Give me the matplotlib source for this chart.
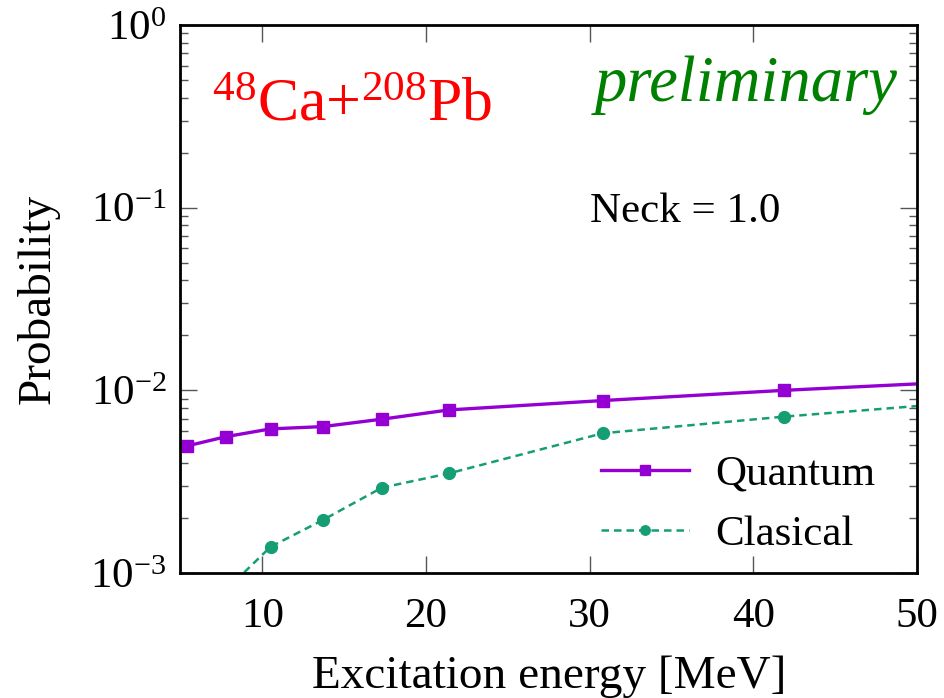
import numpy as np
import matplotlib
matplotlib.use('Agg')
import matplotlib.pyplot as plt
from matplotlib.ticker import LogLocator, NullFormatter, FixedLocator

plt.rcParams['font.family'] = ['Liberation Serif', 'DejaVu Serif']
plt.rcParams['mathtext.fontset'] = 'custom'
plt.rcParams['mathtext.rm'] = 'Liberation Serif'
plt.rcParams['mathtext.it'] = 'Liberation Serif:italic'

# data
quantum_e = [5.4, 7.8, 10.5, 13.7, 17.3, 21.4, 30.8, 41.9, 55.0]
quantum_p = [4.96e-3, 5.58e-3, 6.15e-3, 6.33e-3, 6.95e-3, 7.81e-3, 8.79e-3, 1.0e-2, 1.14e-2]
classical_e = [7.8, 10.5, 13.7, 17.3, 21.4, 30.8, 41.9, 55.0]
classical_p = [8.1e-4, 1.39e-3, 1.95e-3, 2.93e-3, 3.51e-3, 5.82e-3, 7.18e-3, 8.9e-3]
xticks = [10, 20, 30, 40, 50]

fig = plt.figure(figsize=(9.44, 6.98), dpi=100)
ax = fig.add_axes([0.1912, 0.1791, 0.7802, 0.7851])

ax.plot(quantum_e, quantum_p, color='#9400D3', lw=2.4, marker='s', ms=8.5,
        label='Quantum')
ax.plot(classical_e, classical_p, color='#159e74', lw=1.8, ls=(0, (3, 2)),
        marker='o', ms=8.5, label='Clasical')

ax.set_yscale('log')
ax.set_xlim(5, 50)
ax.set_ylim(1e-3, 1)
ax.xaxis.set_major_locator(FixedLocator(xticks))
ax.yaxis.set_major_locator(LogLocator(base=10, numticks=10))
ax.yaxis.set_minor_locator(LogLocator(base=10, subs=np.arange(2, 10), numticks=10))
ax.yaxis.set_minor_formatter(NullFormatter())

ax.tick_params(which='both', direction='in', top=True, right=True,
               color='#555555', width=1.0, labelsize=31)
ax.tick_params(which='major', length=12)
ax.tick_params(which='minor', length=6)
ax.tick_params(axis='x', which='major', pad=18)
ax.tick_params(axis='y', which='major', pad=10)
for s in ax.spines.values():
    s.set_linewidth(2.0)

ax.set_xlabel('Excitation energy [MeV]', fontsize=34, labelpad=14)
ax.set_ylabel('Probability', fontsize=34, labelpad=22)

ax.text(0.043, 0.825, r'$^{48}$Ca+$^{208}$Pb', transform=ax.transAxes,
        color='red', fontsize=44.5, va='baseline', ha='left')
ax.text(0.974, 0.862, 'preliminary', transform=ax.transAxes, color='green',
        fontsize=46.5, style='italic', va='baseline', ha='right')
ax.text(0.556, 0.640, 'Neck = 1.0', transform=ax.transAxes, color='black',
        fontsize=31, va='baseline', ha='left')

ax.legend(loc='lower right', bbox_to_anchor=(0.975, -0.008), frameon=False,
          fontsize=31, handlelength=2.05, handletextpad=0.6,
          labelspacing=0.48, numpoints=1, markerscale=0.8,
          borderaxespad=0.15)

fig.savefig('out.png', dpi=100)
